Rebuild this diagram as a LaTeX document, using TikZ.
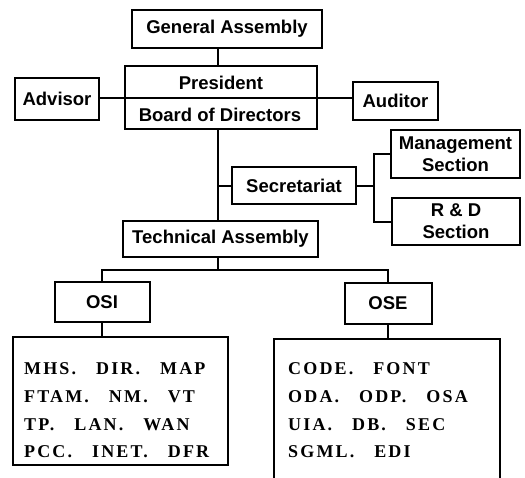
\documentclass[tikz,border=0pt]{standalone}
\usepackage{fontspec}
\setmainfont{Liberation Sans}
\newfontfamily\boxfont{Liberation Sans}
\newfontfamily\listfont[LetterSpace=12,WordSpace=3]{Liberation Serif}
\begin{document}
\begin{tikzpicture}[x=1pt,y=-1pt,
  line cap=rect,
  conn/.style={draw, line width=2pt},
  orgbox/.style={draw, line width=2pt, inner sep=0pt, align=center,
    font=\boxfont\bfseries\fontsize{18.5}{22}\selectfont},
  lbl/.style={inner sep=0pt, font=\boxfont\bfseries\fontsize{18.5}{22}\selectfont},
  listbox/.style={draw, line width=2pt, inner sep=0pt},
  listtxt/.style={inner sep=0pt, align=left, anchor=north west,
    font=\listfont\bfseries\fontsize{18}{27.7}\selectfont}]
\useasboundingbox (0,0) rectangle (525,477);
\clip (0,0) rectangle (525,477);
\coordinate (trunk) at (218,0);
\coordinate (br) at (374,0);
\coordinate (bus) at (0,270);
% boxes
\node[orgbox, minimum width=190, minimum height=38] (ga) at (227,29) {General Assembly};
\node[orgbox, minimum width=192, minimum height=63] (pres) at (221,97.5) {};
\node[lbl] (prest) at (221,83) {President};
\node[lbl] (board) at (220,115) {Board of Directors};
\node[orgbox, minimum width=84, minimum height=42] (adv) at (57,99) {Advisor};
\node[orgbox, minimum width=85, minimum height=38] (aud) at (395.5,101) {Auditor};
\node[orgbox, minimum width=124, minimum height=37] (sec) at (294,185.5) {Secretariat};
\node[orgbox, minimum width=129, minimum height=48] (mgmt) at (455.5,154) {Management\\Section};
\node[orgbox, minimum width=128, minimum height=47] (rd) at (456,221.5) {R \& D\\Section};
\node[orgbox, minimum width=195, minimum height=36] (ta) at (220.5,239) {Technical Assembly};
\node[orgbox, minimum width=95, minimum height=40] (osi) at (102,302) {OSI};
\node[orgbox, minimum width=87, minimum height=41] (ose) at (388,303.5) {OSE};
\node[listbox, minimum width=215, minimum height=128] (osil) at (120.5,401) {};
\node[listbox, minimum width=226, minimum height=161] (osel) at (387,419.5) {};
\node[listtxt] (ositxt) at (24,362.5) {MHS. DIR. MAP\\FTAM. NM. VT\\TP. LAN. WAN\\PCC. INET. DFR};
\node[listtxt] (osetxt) at (288,362.5) {CODE. FONT\\ODA. ODP. OSA\\UIA. DB. SEC\\SGML. EDI};
% divider
\draw[conn] (pres.west) -- (pres.east);
% connectors
\draw[conn] (trunk |- ga.south) -- (trunk |- pres.north);
\draw[conn] (adv.east |- pres.west) -- (pres.west);
\draw[conn] (pres.east) -- (aud.west |- pres.east);
\draw[conn] (trunk |- pres.south) -- (trunk |- ta.north);
\draw[conn] (trunk |- sec.west) -- (sec.west);
\draw[conn] (sec.east) -- (br |- sec.east);
\draw[conn] (mgmt.west) -- (br |- mgmt.west) -- (br |- rd.west) -- (rd.west);
\draw[conn] (trunk |- ta.south) -- (trunk |- bus);
\draw[conn] (osi.north) -- (osi.north |- bus) -- (ose.north |- bus) -- (ose.north);
\draw[conn] (osi.south) -- (osi.south |- osil.north);
\draw[conn] (ose.south) -- (ose.south |- osel.north);
\end{tikzpicture}
\end{document}
